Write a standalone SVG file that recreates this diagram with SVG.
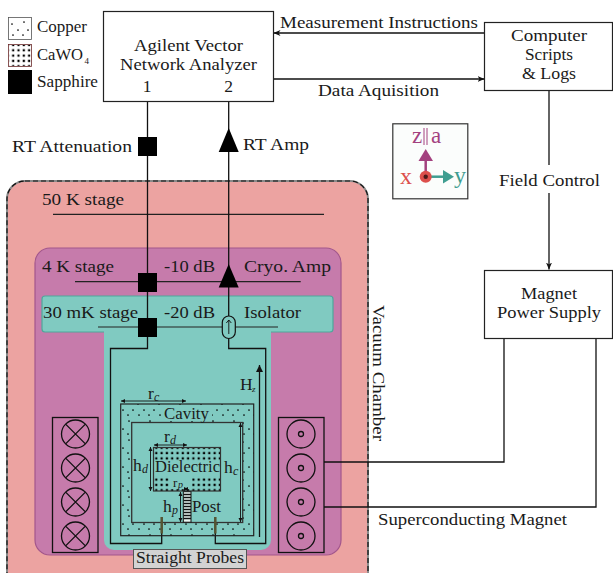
<svg xmlns="http://www.w3.org/2000/svg" width="613" height="573" viewBox="0 0 613 573">
<style>
text{font-family:"Liberation Serif","Times New Roman",serif;font-size:17.5px;fill:#1a1a1a}
.m{text-anchor:middle}
.i{font-style:italic;font-size:12px}
.box{fill:#fff;stroke:#222;stroke-width:1.2}
.w{fill:none;stroke:#111;stroke-width:1.3}
.thin{fill:none;stroke:#111;stroke-width:.9}
.coil{fill:none;stroke:#111;stroke-width:1.3}
.stage{fill:none;stroke:#222;stroke-width:1.2}
</style>
<defs>
<pattern id="cu" width="21" height="19" patternUnits="userSpaceOnUse">
<g fill="#000"><circle cx="3" cy="3" r=".85"/><circle cx="12" cy="5" r=".85"/><circle cx="18" cy="11" r=".85"/><circle cx="7" cy="11" r=".85"/><circle cx="13" cy="16" r=".85"/><circle cx="2" cy="16" r=".85"/></g>
</pattern>
<pattern id="caw" width="5.300" height="5.300" patternUnits="userSpaceOnUse"><rect x="1.500" y="1.500" width="2.200" height="2.200" fill="#000"/></pattern>
<marker id="a" markerWidth="8" markerHeight="8" refX="7" refY="4" orient="auto" markerUnits="userSpaceOnUse"><path d="M0 1L7 4L0 7L2 4Z" fill="#111"/></marker>
<marker id="d" markerWidth="5" markerHeight="5" refX="4" refY="2.500" orient="auto" markerUnits="userSpaceOnUse"><path d="M0 .5L4 2.500L0 4.500Z" fill="#111"/></marker>
<marker id="ds" markerWidth="5" markerHeight="5" refX="0" refY="2.500" orient="auto" markerUnits="userSpaceOnUse"><path d="M4 .5L0 2.500L4 4.500Z" fill="#111"/></marker>
<marker id="hz" markerWidth="9" markerHeight="9" refX="7" refY="3.500" orient="auto" markerUnits="userSpaceOnUse"><path d="M0 0L7 3.500L0 7Z" fill="#111"/></marker>
</defs>

<g id="stage-50k">
<rect x="7" y="181" width="361" height="410" rx="18" fill="#eca3a1" stroke="#8a8a8a" stroke-width="2"/>
<rect x="7" y="181" width="361" height="410" rx="18" fill="none" stroke="#111" stroke-width="1.200" stroke-dasharray="5 3"/>
<line class="stage" x1="53" y1="214.300" x2="324" y2="214.300"/>
<text x="42" y="205" textLength="82" lengthAdjust="spacingAndGlyphs">50 K stage</text>
</g>
<g id="stage-4k">
<rect x="35" y="248" width="306" height="307" rx="15" fill="#c67bab" stroke="#a2568c" stroke-width="1.200"/>
<line class="stage" x1="75" y1="281.700" x2="300.700" y2="281.700"/>
<text x="42" y="272" textLength="72" lengthAdjust="spacingAndGlyphs">4 K stage</text>
<text x="164" y="272" textLength="51" lengthAdjust="spacingAndGlyphs">-10 dB</text>
<text x="244" y="272" textLength="87" lengthAdjust="spacingAndGlyphs">Cryo. Amp</text>
</g>
<g id="stage-30mk">
<path d="M45 296H330a3 3 0 0 1 3 3V329a3 3 0 0 1-3 3H271V540a10 10 0 0 1-10 10H114a10 10 0 0 1-10-10V332H45a3 3 0 0 1-3-3V299a3 3 0 0 1 3-3Z" fill="#80cac1"/>
<path d="M104 332H45a3 3 0 0 1-3-3V299a3 3 0 0 1 3-3H330a3 3 0 0 1 3 3V329a3 3 0 0 1-3 3H271" fill="none" stroke="#4fa79c" stroke-width="1.200"/>
<line class="stage" x1="98" y1="327" x2="278" y2="327"/>
<text x="43" y="318" textLength="95" lengthAdjust="spacingAndGlyphs">30 mK stage</text>
<text x="164" y="318" textLength="51" lengthAdjust="spacingAndGlyphs">-20 dB</text>
<text x="244" y="318" textLength="57" lengthAdjust="spacingAndGlyphs">Isolator</text>
</g>

<g id="legend">
<rect x="8.500" y="17.500" width="23" height="22" fill="#fff" stroke="#555" stroke-width=".8"/><rect x="8.500" y="17.500" width="23" height="22" fill="url(#cu)"/>
<rect x="8.500" y="44.500" width="23" height="22" fill="#fff" stroke="#6b2b2b" stroke-width=".8"/><rect x="9" y="45" width="22" height="21" fill="url(#caw)"/>
<rect x="8" y="70" width="24" height="24" fill="#000"/>
<text x="37" y="60" textLength="46" lengthAdjust="spacingAndGlyphs">CaWO</text><text x="84.500" y="64" style="font-size:9px">4</text>
<text x="37" y="32" textLength="50" lengthAdjust="spacingAndGlyphs">Copper</text>
<text x="37" y="87" textLength="61" lengthAdjust="spacingAndGlyphs">Sapphire</text>
</g>

<g id="connectors">
<line class="w" x1="485" y1="33" x2="273.500" y2="33" marker-end="url(#a)"/>
<line class="w" x1="273" y1="79" x2="484.500" y2="79" marker-end="url(#a)"/>
<line class="w" x1="549" y1="90" x2="549" y2="165"/>
<line class="w" x1="549" y1="193" x2="549" y2="269.500" marker-end="url(#a)"/>
<path class="w" d="M147.500 101V348.500H110.500V543.500H161.700V517"/>
<path class="w" d="M228.700 101V316M228.700 338V348.500H265.700V543.500H215.300V517"/>
<path class="w" d="M324 462H504V338"/>
<path class="w" d="M324 507H596V338"/>
<line class="w" x1="259.500" y1="537" x2="259.500" y2="365" marker-end="url(#hz)"/>
</g>

<g id="vna"><rect class="box" x="103.500" y="11.500" width="170" height="90"/>
<text class="m" x="188.500" y="51" textLength="109" lengthAdjust="spacingAndGlyphs">Agilent Vector</text>
<text class="m" x="188.500" y="70" textLength="137" lengthAdjust="spacingAndGlyphs">Network Analyzer</text>
<text class="m" x="147" y="92">1</text><text class="m" x="228.500" y="92">2</text></g>
<g id="computer"><rect class="box" x="484.500" y="22.500" width="128" height="68"/>
<text class="m" x="549" y="41" textLength="76" lengthAdjust="spacingAndGlyphs">Computer</text><text class="m" x="549" y="60" textLength="48" lengthAdjust="spacingAndGlyphs">Scripts</text><text class="m" x="549" y="79" textLength="54" lengthAdjust="spacingAndGlyphs">&amp; Logs</text></g>
<g id="magnet-supply"><rect class="box" x="484.500" y="270.500" width="128" height="68"/>
<text class="m" x="549" y="299" textLength="56" lengthAdjust="spacingAndGlyphs">Magnet</text><text class="m" x="549" y="318" textLength="104" lengthAdjust="spacingAndGlyphs">Power Supply</text></g>

<g id="labels">
<text x="280" y="28" textLength="198" lengthAdjust="spacingAndGlyphs">Measurement Instructions</text>
<text x="318" y="96" textLength="121" lengthAdjust="spacingAndGlyphs">Data Aquisition</text>
<text class="m" x="549.500" y="186" textLength="101" lengthAdjust="spacingAndGlyphs">Field Control</text>
<text x="12" y="152" textLength="120" lengthAdjust="spacingAndGlyphs">RT Attenuation</text>
<text x="243" y="150" textLength="66" lengthAdjust="spacingAndGlyphs">RT Amp</text>
<text x="378" y="525" textLength="189" lengthAdjust="spacingAndGlyphs">Superconducting Magnet</text>
<text transform="translate(373 305) rotate(90)" textLength="136" lengthAdjust="spacingAndGlyphs">Vacuum Chamber</text>
</g>

<g id="rt-attenuator"><rect x="138" y="137" width="19" height="19" fill="#000"/></g>
<g id="rt-amp"><path d="M228.700 128L238.700 152H218.700Z" fill="#000"/></g>
<g id="attenuator-10"><rect x="138" y="273" width="19" height="19" fill="#000"/></g>
<g id="cryo-amp"><path d="M228.700 264L238.700 287.500H218.700Z" fill="#000"/></g>
<g id="attenuator-20"><rect x="138" y="318" width="19" height="19" fill="#000"/></g>
<g id="isolator"><rect x="222.300" y="316" width="13" height="22.500" rx="6.500" fill="#80cac1" stroke="#111" stroke-width="1.200"/><path class="thin" d="M228.800 334V320M226.300 323L228.800 320L231.300 323"/></g>

<g id="cavity">
<path fill-rule="evenodd" d="M121 404H254V536H121ZM132 422.500V522.500H243V422.500Z" fill="url(#cu)"/>
<rect x="120.700" y="404" width="133" height="131.700" fill="none" stroke="#222" stroke-width="1.200"/>
<rect x="131.700" y="422.500" width="111" height="100" fill="none" stroke="#333" stroke-width="1.300"/>
<line x1="161.700" y1="517" x2="161.700" y2="533.500" stroke="#553" stroke-width="2.500"/>
<line x1="215.300" y1="517" x2="215.300" y2="533.500" stroke="#553" stroke-width="2.500"/>
<rect x="162" y="406" width="50" height="15" fill="#80cac1"/>
<text class="m" x="186.500" y="419" textLength="45" lengthAdjust="spacingAndGlyphs">Cavity</text>
<line class="thin" x1="121" y1="401" x2="186" y2="401" marker-start="url(#ds)" marker-end="url(#d)"/>
<text x="148" y="399">r</text><text class="i" x="154" y="401">c</text>
<line class="thin" x1="240.500" y1="423" x2="240.500" y2="522" marker-start="url(#ds)" marker-end="url(#d)"/>
<text x="224" y="473">h</text><text class="i" x="233" y="475">c</text>
</g>
<g id="dielectric">
<rect x="153.500" y="447.500" width="67" height="43.500" fill="url(#caw)"/>
<rect x="154" y="461" width="66" height="15" fill="#80cac1"/>
<rect x="170" y="476" width="22" height="13" fill="#80cac1"/>
<rect x="153.500" y="447.500" width="67" height="43.500" fill="none" stroke="#333" stroke-width="1.200"/>
<text class="m" x="187.500" y="472" textLength="65" lengthAdjust="spacingAndGlyphs">Dielectric</text>
<line class="thin" x1="154" y1="445" x2="187" y2="445" marker-start="url(#ds)" marker-end="url(#d)"/>
<text x="164" y="442">r</text><text class="i" x="170" y="444">d</text>
<line class="thin" x1="150.500" y1="447" x2="150.500" y2="491" marker-start="url(#ds)" marker-end="url(#d)"/>
<text x="133" y="471">h</text><text class="i" x="142" y="473">d</text>
<text x="173" y="487" style="font-size:13px">r</text><text class="i" x="178" y="488" style="font-size:10px">p</text>
</g>
<g id="post">
<rect x="183.300" y="491.700" width="7.700" height="30.500" fill="#e8f4f0" stroke="#111" stroke-width="1"/>
<path d="M183.500 494.500H191M183.500 497.500H191M183.500 500.500H191M183.500 503.500H191M183.500 506.500H191M183.500 509.500H191M183.500 512.500H191M183.500 515.500H191M183.500 518.500H191" stroke="#111" stroke-width="1.500"/>
<line class="thin" x1="184" y1="489" x2="188" y2="489" marker-start="url(#ds)" marker-end="url(#d)"/>
<line class="thin" x1="180.500" y1="492" x2="180.500" y2="522" marker-start="url(#ds)" marker-end="url(#d)"/>
<text x="163" y="512">h</text><text class="i" x="172" y="514">p</text>
<text x="192" y="512" textLength="29" lengthAdjust="spacingAndGlyphs">Post</text>
</g>
<g id="hz-label"><text x="240" y="390">H</text><text class="i" x="252" y="392" style="font-size:9px">z</text></g>

<g id="probes"><rect x="133.500" y="549.500" width="113" height="19" fill="#d3d3d3" stroke="#555"/><text x="136" y="563" textLength="108" lengthAdjust="spacingAndGlyphs">Straight Probes</text></g>

<g id="coil-left"><rect class="coil" x="52.500" y="417.500" width="45.500" height="135"/>
<g class="coil"><circle cx="75.500" cy="434" r="14"/><path d="M65.600 424.100L85.400 443.900M85.400 424.100L65.600 443.900"/>
<circle cx="75.500" cy="468" r="14"/><path d="M65.600 458.100L85.400 477.900M85.400 458.100L65.600 477.900"/>
<circle cx="75.500" cy="502" r="14"/><path d="M65.600 492.100L85.400 511.900M85.400 492.100L65.600 511.900"/>
<circle cx="75.500" cy="536" r="14"/><path d="M65.600 526.100L85.400 545.900M85.400 526.100L65.600 545.900"/></g></g>
<g id="coil-right"><rect class="coil" x="278.500" y="417.500" width="45.500" height="135"/>
<g class="coil"><circle cx="301" cy="434" r="14"/><circle cx="301" cy="434" r="2.500"/>
<circle cx="301" cy="468" r="14"/><circle cx="301" cy="468" r="2.500"/>
<circle cx="301" cy="502" r="14"/><circle cx="301" cy="502" r="2.500"/>
<circle cx="301" cy="536" r="14"/><circle cx="301" cy="536" r="2.500"/></g></g>

<g id="axes"><rect x="392.800" y="123.800" width="75" height="75" fill="#fbfdfc" stroke="#333" stroke-width="1.200"/>
<line x1="425.700" y1="176" x2="425.700" y2="160" stroke="#a3417f" stroke-width="2.500"/><path d="M418.500 161L425.700 149L433 161Z" fill="#a3417f"/>
<line x1="426" y1="176.700" x2="445" y2="176.700" stroke="#3f9e91" stroke-width="2.500"/><path d="M443 170L454 176.700L443 183.500Z" fill="#3f9e91"/>
<circle cx="425.700" cy="176.700" r="6" fill="#dc4f4c"/><circle cx="425.700" cy="176.700" r="2.200" fill="#4a1a1a"/>
<text x="400" y="184" style="font-size:24px;fill:#dc4f4c">x</text>
<text x="454" y="183" style="font-size:24px;fill:#3f9e91">y</text>
<text x="412" y="143" style="font-size:23px;fill:#a3417f">z</text>
<path d="M424 128V145M427 128V145" stroke="#a3417f" fill="none"/>
<text x="431" y="143" style="font-size:23px;fill:#a3417f">a</text></g>
</svg>
